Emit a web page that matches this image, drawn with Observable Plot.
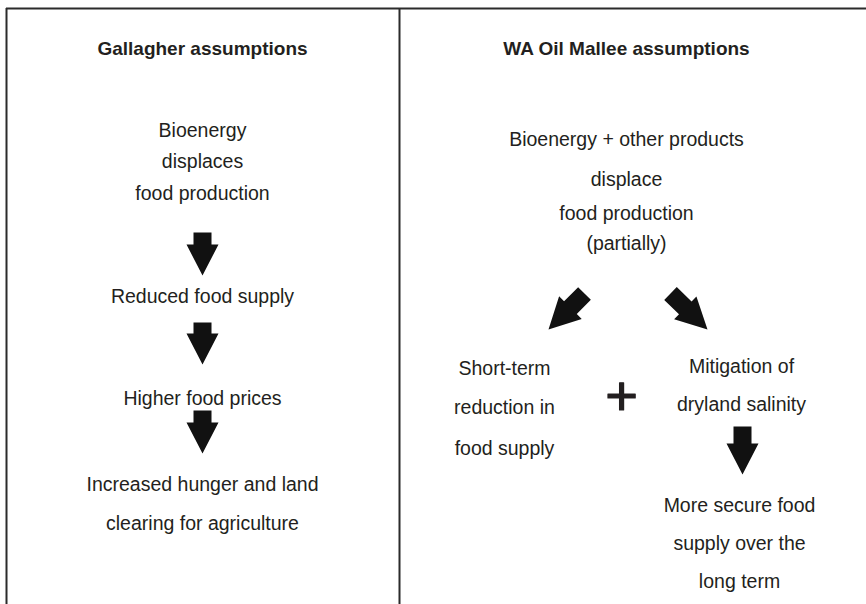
<!DOCTYPE html>
<html>
<head>
<meta charset="utf-8">
<script src="https://cdn.jsdelivr.net/npm/d3@7"></script>
<script src="https://cdn.jsdelivr.net/npm/@observablehq/plot@0.6"></script>
<style>
  html, body { margin: 0; padding: 0; background: #fff; }
  #chart { width: 866px; height: 604px; }
</style>
</head>
<body>
<div id="chart"></div>
<script>
// ---- Content (text of the diagram) ----
const columnTitles = ["Gallagher assumptions", "WA Oil Mallee assumptions"];
const gallagherChain = [
  ["Bioenergy", "displaces", "food production"],
  ["Reduced food supply"],
  ["Higher food prices"],
  ["Increased hunger and land", "clearing for agriculture"]
];
const malleeSource = ["Bioenergy + other products", "displace", "food production", "(partially)"];
const malleeShortTerm = ["Short-term", "reduction in", "food supply"];
const malleeMitigation = ["Mitigation of", "dryland salinity"];
const malleeOutcome = ["More secure food", "supply over the", "long term"];
const combineSymbol = "+";

// ---- Layout (diagram coordinates, separate from content) ----
const W = 866, H = 604;
const titleLayout = [{x: 202, y: 48}, {x: 626, y: 48}];
const gallagherLayout = [
  {x: 202, ys: [130, 161, 193]},
  {x: 202, ys: [296]},
  {x: 202, ys: [398]},
  {x: 202, ys: [484, 523]}
];
const malleeLayout = [
  {lines: malleeSource, x: 626, ys: [139, 179, 213, 243]},
  {lines: malleeShortTerm, x: 504, ys: [368, 407, 448]},
  {lines: malleeMitigation, x: 741, ys: [366, 404]},
  {lines: malleeOutcome, x: 739, ys: [505, 543, 581]}
];
const plusLayout = {x: 621, y: 397};
// arrows: from tail to tip
const arrowLayout = [
  {x1: 202, y1: 232, x2: 202, y2: 275},
  {x1: 202, y1: 322, x2: 202, y2: 364},
  {x1: 202, y1: 410, x2: 202, y2: 453},
  {x1: 584, y1: 293, x2: 548, y2: 329},
  {x1: 670, y1: 293, x2: 707, y2: 329},
  {x1: 742, y1: 426, x2: 742, y2: 474}
];
const arrowShape = {shaftHalf: 9, headHalf: 16, headLen: 31};

// ---- Build tables for the marks ----
const titleRows = columnTitles.map((t, i) => ({text: t, ...titleLayout[i]}));
const bodyRows = [];
gallagherChain.forEach((lines, i) => {
  lines.forEach((t, j) => bodyRows.push({text: t, x: gallagherLayout[i].x, y: gallagherLayout[i].ys[j]}));
});
malleeLayout.forEach(g => {
  g.lines.forEach((t, j) => bodyRows.push({text: t, x: g.x, y: g.ys[j]}));
});
const plusRows = [{text: combineSymbol, ...plusLayout}];

const arrowPts = [];
arrowLayout.forEach((a, id) => {
  const dx = a.x2 - a.x1, dy = a.y2 - a.y1;
  const L = Math.hypot(dx, dy);
  const ux = dx / L, uy = dy / L, nx = -uy, ny = ux;
  const {shaftHalf: s, headHalf: h, headLen: hl} = arrowShape;
  const nk = L - hl;
  const p = (along, side) => ({id, x: a.x1 + ux * along + nx * side, y: a.y1 + uy * along + ny * side});
  arrowPts.push(p(0, -s), p(nk, -s), p(nk, -h), p(L, 0), p(nk, h), p(nk, s), p(0, s));
});

const ink = "#231f20";
const font = "'Liberation Sans', Arial, Helvetica, sans-serif";

const chart = Plot.plot({
  width: W,
  height: H,
  margin: 0,
  x: {domain: [0, W], range: [0, W], axis: null},
  y: {domain: [0, H], range: [0, H], axis: null},
  style: {fontFamily: font, background: "#fff", color: ink},
  marks: [
    // frame
    Plot.ruleY([8], {x1: 6, x2: W, stroke: "#2b2b2b", strokeWidth: 2}),
    Plot.ruleX([6], {y1: 8, y2: H, stroke: "#2b2b2b", strokeWidth: 2}),
    Plot.ruleX([399], {y1: 8, y2: H, stroke: "#2b2b2b", strokeWidth: 2}),
    // titles
    Plot.text(titleRows, {x: "x", y: "y", text: "text", fontSize: 19, fontWeight: "bold", fill: ink, textAnchor: "middle", lineAnchor: "middle"}),
    // body text
    Plot.text(bodyRows, {x: "x", y: "y", text: "text", fontSize: 19.5, fill: ink, textAnchor: "middle", lineAnchor: "middle"}),
    // plus
    Plot.text(plusRows, {x: "x", y: "y", text: "text", fontSize: 56, fill: ink, stroke: ink, strokeWidth: 1.2, textAnchor: "middle", lineAnchor: "middle"}),
    // block arrows
    Plot.line(arrowPts, {x: "x", y: "y", z: "id", fill: "#111", stroke: "none", curve: "linear-closed"})
  ]
});
document.getElementById("chart").appendChild(chart);
</script>
</body>
</html>
